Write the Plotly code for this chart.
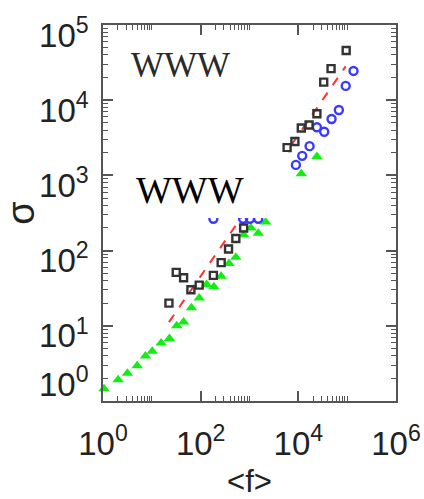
import plotly.graph_objects as go

# ---- data ----
black_x = [22.4, 31.6, 44.7, 63.1, 93.3, 182, 263, 372, 525, 759,
           5890, 8510, 11500, 16600, 24000, 33100, 46800, 95500]
black_y = [20.0, 51.3, 43.6, 30.2, 34.7, 46.8, 69.2, 105, 145, 200,
           2340, 2820, 4270, 4680, 6600, 17400, 26300, 45700]

blue_x = [182, 741, 1020, 1510,
          8910, 12000, 17000, 24000, 33900, 47900, 67600, 93300, 135000]
blue_y = [265, 265, 265, 265,
          1380, 1820, 2450, 4370, 3800, 5620, 7410, 15500, 24500]

green_x = [1.05, 2.04, 3.16, 5.01, 7.41, 10.2, 15.5, 22.9, 32.4, 44.7, 64.6,
           93.3, 132, 186, 263, 380, 525, 759, 1070, 1510, 2140,
           11500, 24000]
green_y = [1.45, 1.91, 2.34, 2.95, 3.98, 4.57, 5.89, 6.76, 10.0, 11.2, 17.4,
           23.4, 35.5, 33.1, 45.7, 67.6, 81.3, 162, 200, 170, 240,
           1050, 1780]

fit_x = [22.4, 93300]
fit_y = [11.2, 28200]

x_tickvals = [1, 100, 1e4, 1e6]
x_ticktext = ["10<sup>0</sup>", "10<sup>2</sup>", "10<sup>4</sup>", "10<sup>6</sup>"]
x_minorvals = [2, 3, 4, 5, 6, 7, 8, 9, 10,
               200, 300, 400, 500, 600, 700, 800, 900, 1000,
               2e4, 3e4, 4e4, 5e4, 6e4, 7e4, 8e4, 9e4, 1e5]
y_tickvals = [1, 10, 100, 1000, 1e4, 1e5]
# the bottom label (10^0) sits raised above its tick in the reference, so it is placed as an annotation
y_ticktext = ["", "10<sup>1</sup>", "10<sup>2</sup>",
              "10<sup>3</sup>", "10<sup>4</sup>", "10<sup>5</sup>"]
y_bottom_label = "10<sup>0</sup>"
y_minorvals = [m * 10 ** d for d in range(5) for m in range(2, 10)]

axis_col = "#555555"

fig = go.Figure()
fig.add_trace(go.Scatter(x=fit_x, y=fit_y, mode="lines",
                         line=dict(color="#ff3030", width=2, dash="dash"),
                         showlegend=False))
fig.add_trace(go.Scatter(x=green_x, y=green_y, mode="markers", cliponaxis=False,
                         marker=dict(symbol="triangle-up", size=10, color="#11ee11",
                                     line=dict(width=0)),
                         showlegend=False))
fig.add_trace(go.Scatter(x=blue_x, y=blue_y, mode="markers",
                         marker=dict(symbol="circle-open", size=8, color="#3a3aff",
                                     line=dict(width=2.4)),
                         showlegend=False))
fig.add_trace(go.Scatter(x=black_x, y=black_y, mode="markers",
                         marker=dict(symbol="square-open", size=7, color="#333333",
                                     line=dict(width=2.4)),
                         showlegend=False))

tickfont = dict(family="Liberation Sans, Arial", size=33, color="#222222")

fig.update_xaxes(type="log", range=[0, 6], showgrid=False, zeroline=False,
                 automargin=False,
                 showline=True, linecolor=axis_col, linewidth=1.5, mirror="ticks",
                 ticks="inside", ticklen=10, tickwidth=1.5, tickcolor=axis_col,
                 tickvals=x_tickvals, ticktext=x_ticktext, tickfont=tickfont,
                 ticklabelstandoff=13,
                 minor=dict(ticks="inside", ticklen=5, tickwidth=1, tickcolor=axis_col,
                            tickvals=x_minorvals, showgrid=False),
                 title=dict(text="&lt;f&gt;", font=dict(family="Liberation Sans, Arial",
                                                     size=31, color="#222222"),
                            standoff=20))
fig.update_yaxes(type="log", range=[0, 5], showgrid=False, zeroline=False,
                 automargin=False,
                 showline=True, linecolor=axis_col, linewidth=1.5, mirror="ticks",
                 ticks="inside", ticklen=10, tickwidth=1.5, tickcolor=axis_col,
                 tickvals=y_tickvals, ticktext=y_ticktext, tickfont=tickfont,
                 ticklabelstandoff=6, ticklabelshift=10,
                 minor=dict(ticks="inside", ticklen=5, tickwidth=1, tickcolor=axis_col,
                            tickvals=y_minorvals, showgrid=False),
                 title=dict(text="σ", font=dict(family="Liberation Sans, Arial",
                                                size=38, color="#222222"),
                            standoff=6))

fig.add_annotation(x=-12 / 293, y=(401 - 382) / 376, xref="paper", yref="paper",
                   xanchor="right", yanchor="middle", text=y_bottom_label,
                   showarrow=False, font=tickfont)

# white box covering part of the panel
fig.add_shape(type="rect", xref="paper", yref="paper",
              x0=0.0375, x1=0.631, y0=0.487, y1=0.662,
              fillcolor="white", line=dict(width=0), layer="above")

fig.add_annotation(x=(180 - 103) / 293, y=(401 - 65) / 376, xref="paper", yref="paper",
                   xanchor="center", yanchor="middle",
                   text="WWW", showarrow=False,
                   font=dict(family="Liberation Serif, Times New Roman", size=35,
                             color="#2a2a2a"))
fig.add_annotation(x=(190 - 103) / 293, y=(401 - 190) / 376, xref="paper", yref="paper",
                   xanchor="center", yanchor="middle",
                   text="WWW", showarrow=False,
                   font=dict(family="Liberation Serif, Times New Roman", size=38,
                             color="#000000"))

fig.update_layout(width=424, height=499, margin=dict(l=103, r=28, t=25, b=98),
                  paper_bgcolor="white", plot_bgcolor="white")

fig.write_html("out.html")
